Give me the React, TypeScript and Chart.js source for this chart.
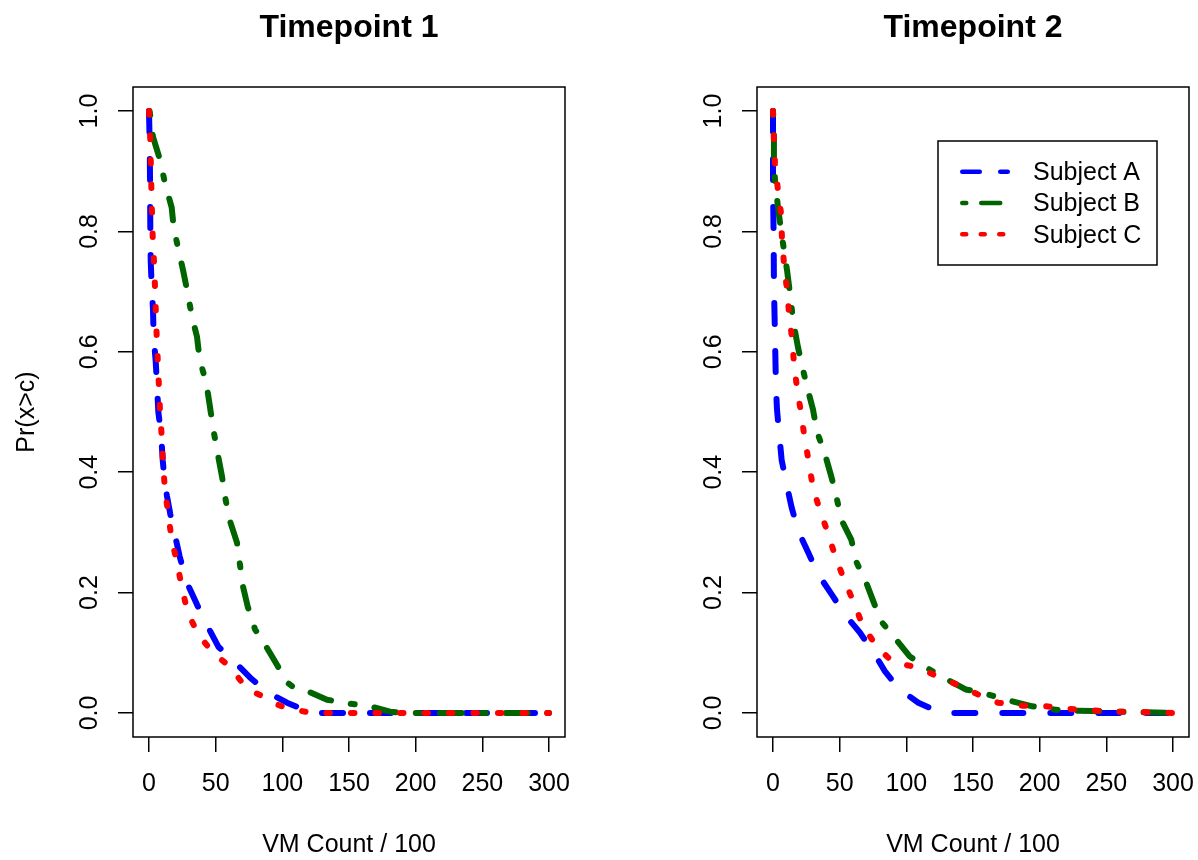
import React, { useEffect, useRef } from "react";
import { Chart, registerables } from "chart.js";

Chart.register(...registerables);

// ---------- data ----------
const xTicks = [0, 50, 100, 150, 200, 250, 300];
const yTicks = [0, 0.2, 0.4, 0.6, 0.8, 1.0];
const panelTitles = ["Timepoint 1", "Timepoint 2"];
const seriesNames = ["Subject A", "Subject B", "Subject C"];
const seriesColors = ["#0000FF", "#006400", "#FF0000"];
const xTitle = "VM Count / 100";
const yTitle = "Pr(x>c)";

// Timepoint 1
const t1A_x = [0, 0.5, 0.8, 1, 1.3, 2, 3, 3.5, 5, 6, 7, 9, 10.3, 11.5, 13.5, 16, 19.5, 23, 28.5, 36, 44, 52, 64.5, 75.7, 89, 103.5, 115.5, 122, 130, 200, 300];
const t1A_y = [1.0, 0.95, 0.88, 0.8, 0.75, 0.71, 0.67, 0.625, 0.585, 0.545, 0.5, 0.465, 0.42, 0.39, 0.36, 0.33, 0.295, 0.26, 0.216, 0.18, 0.144, 0.11, 0.084, 0.059, 0.034, 0.017, 0.006, 0.001, 0, 0, 0];
const t1B_x = [0.5, 3, 8.25, 12, 17, 18.5, 21.75, 25.5, 28.5, 32.25, 36, 38, 43, 45.5, 48, 51, 54.75, 57, 60, 66, 68, 70.5, 74, 79.5, 88.5, 96.75, 104, 110, 119, 133.5, 148.5, 165.75, 180.75, 190, 300];
const t1B_y = [1.0, 0.957, 0.919, 0.88, 0.84, 0.807, 0.773, 0.736, 0.703, 0.658, 0.625, 0.587, 0.548, 0.512, 0.474, 0.437, 0.393, 0.36, 0.324, 0.283, 0.25, 0.21, 0.177, 0.139, 0.108, 0.077, 0.05, 0.04, 0.036, 0.022, 0.016, 0.011, 0.002, 0, 0];
const t1C_x = [0, 1, 1.5, 2, 2.8, 3.75, 4.5, 5.8, 7.5, 8.3, 9.7, 10.5, 12, 14.3, 17, 21, 24.7, 29, 37, 48, 60.7, 72, 80, 87, 95, 102, 110, 120, 130, 200, 300];
const t1C_y = [1.0, 0.95, 0.9, 0.85, 0.79, 0.75, 0.707, 0.624, 0.54, 0.5, 0.454, 0.415, 0.37, 0.333, 0.288, 0.25, 0.208, 0.167, 0.13, 0.1, 0.077, 0.044, 0.033, 0.026, 0.015, 0.009, 0.005, 0.001, 0, 0, 0];

// Timepoint 2
const t2A_x = [0, 0, 0.5, 0.7, 1.5, 2.2, 3, 4.7, 6.5, 10.3, 14, 19, 26.5, 34, 44, 54, 65, 75, 84, 95, 109, 124, 130, 200, 300];
const t2A_y = [1.0, 0.87, 0.79, 0.71, 0.625, 0.542, 0.504, 0.462, 0.42, 0.379, 0.341, 0.302, 0.266, 0.23, 0.197, 0.163, 0.134, 0.102, 0.069, 0.039, 0.017, 0.002, 0, 0, 0];
const t2B_x = [0, 0.7, 0.7, 1.5, 3.7, 6, 10.5, 12.7, 15, 18.7, 22, 25.5, 30, 33, 38.7, 43.7, 47.5, 51.2, 58.7, 62.5, 70, 76.2, 81.2, 91.2, 102.5, 113.7, 127, 144.5, 156.7, 171.2, 194.5, 216.5, 240, 260, 280, 300];
const t2B_y = [1.0, 0.957, 0.924, 0.885, 0.841, 0.802, 0.736, 0.698, 0.653, 0.608, 0.575, 0.542, 0.504, 0.467, 0.432, 0.393, 0.36, 0.321, 0.288, 0.251, 0.216, 0.18, 0.152, 0.125, 0.094, 0.077, 0.06, 0.039, 0.034, 0.024, 0.011, 0.004, 0.003, 0.002, 0.001, 0];
const t2C_x = [0, 0.7, 1.5, 3.7, 6, 6.7, 8.2, 10.5, 12, 14.2, 15.7, 18, 21, 23.7, 27, 30, 35, 41, 47, 54, 60.7, 67.5, 78, 90, 108, 123, 138, 153.5, 168.7, 187, 205, 220, 240, 260, 280, 300];
const t2C_y = [1.0, 0.952, 0.913, 0.869, 0.83, 0.791, 0.747, 0.703, 0.665, 0.623, 0.582, 0.54, 0.499, 0.457, 0.415, 0.374, 0.338, 0.3, 0.258, 0.218, 0.183, 0.144, 0.11, 0.084, 0.076, 0.061, 0.047, 0.031, 0.017, 0.012, 0.011, 0.007, 0.004, 0.002, 0.001, 0];

const panels = [
  { title: panelTitles[0], xs: [t1A_x, t1B_x, t1C_x], ys: [t1A_y, t1B_y, t1C_y] },
  { title: panelTitles[1], xs: [t2A_x, t2B_x, t2C_x], ys: [t2A_y, t2B_y, t2C_y] },
];

// ---------- styles ----------
const FONT = '"Liberation Sans", Arial, Helvetica, sans-serif';
const plotDash = [[21, 27], [4, 20, 22, 20], [3.5, 21]];
const legendDash = [[17.5, 20.5], [4, 15, 19, 15], [4, 14.5]];

const boxPlugin = {
  id: "rbox",
  afterDraw(chart: any) {
    const { ctx, chartArea } = chart;
    ctx.save();
    ctx.strokeStyle = "#000";
    ctx.lineWidth = 1.5;
    ctx.setLineDash([]);
    ctx.strokeRect(chartArea.left, chartArea.top, chartArea.right - chartArea.left, chartArea.bottom - chartArea.top);
    ctx.restore();
  },
};

const legendPlugin = {
  id: "rlegend",
  afterDraw(chart: any) {
    const { ctx, chartArea } = chart;
    const w = 219;
    const h = 124;
    const left = chartArea.right - 32 - w;
    const top = chartArea.top + 54;
    ctx.save();
    ctx.fillStyle = "#fff";
    ctx.fillRect(left, top, w, h);
    ctx.strokeStyle = "#000";
    ctx.lineWidth = 1.5;
    ctx.setLineDash([]);
    ctx.strokeRect(left, top, w, h);
    seriesNames.forEach((name, i) => {
      const y = top + 30.7 + i * 31.3;
      ctx.beginPath();
      ctx.setLineDash(legendDash[i]);
      ctx.lineDashOffset = 0;
      ctx.lineCap = "round";
      ctx.lineWidth = 4.5;
      ctx.strokeStyle = seriesColors[i];
      ctx.moveTo(left + 24.25, y);
      ctx.lineTo(left + 69.75, y);
      ctx.stroke();
      ctx.setLineDash([]);
      ctx.fillStyle = "#000";
      ctx.font = `25px ${FONT}`;
      ctx.textAlign = "left";
      ctx.textBaseline = "middle";
      ctx.fillText(name, left + 95, y + 1.5);
    });
    ctx.restore();
  },
};

function makeConfig(panelIndex: number): any {
  const p = panels[panelIndex];
  const order = [2, 1, 0];
  const datasets = seriesNames.map((name, i) => ({
    label: name,
    data: p.xs[i].map((x, j) => ({ x, y: p.ys[i][j] })),
    borderColor: seriesColors[i],
    backgroundColor: seriesColors[i],
    borderWidth: 6,
    borderDash: plotDash[i],
    borderCapStyle: "round",
    borderJoinStyle: "round",
    pointRadius: 0,
    pointHoverRadius: 0,
    fill: false,
    tension: 0,
    order: order[i],
  }));
  const isFirst = panelIndex === 0;
  const gridOpts = {
    display: true,
    drawOnChartArea: false,
    drawTicks: true,
    tickLength: 15,
    color: "#000",
    lineWidth: 1.5,
  };
  return {
    type: "line",
    data: { datasets },
    options: {
      responsive: false,
      animation: false,
      events: [],
      layout: { padding: { left: 0, right: isFirst ? 34 : 9, top: 0, bottom: 0 } },
      plugins: {
        legend: { display: false },
        tooltip: { enabled: false },
        title: {
          display: true,
          text: p.title,
          color: "#000",
          fullSize: false,
          font: { family: FONT, size: 32, weight: "bold" },
          padding: { top: 9, bottom: 39.6 },
        },
      },
      scales: {
        x: {
          type: "linear",
          min: -12,
          max: 312,
          afterBuildTicks: (s: any) => {
            s.ticks = xTicks.map((v) => ({ value: v }));
          },
          afterFit: (s: any) => {
            s.height = 123;
            s.paddingLeft = 0;
            s.paddingRight = 0;
          },
          grid: gridOpts,
          border: { display: false },
          ticks: {
            color: "#000",
            font: { family: FONT, size: 25 },
            padding: 17,
            minRotation: 0,
            maxRotation: 0,
            autoSkip: false,
            callback: (v: any) => String(v),
          },
          title: {
            display: true,
            text: xTitle,
            color: "#000",
            font: { family: FONT, size: 25 },
            padding: { top: 0, bottom: 0 },
          },
        },
        y: {
          type: "linear",
          min: -0.04,
          max: 1.04,
          afterBuildTicks: (s: any) => {
            s.ticks = yTicks.map((v) => ({ value: v }));
          },
          afterFit: (s: any) => {
            s.width = isFirst ? 133 : 158;
            s.paddingTop = 0;
            s.paddingBottom = 0;
          },
          grid: gridOpts,
          border: { display: false },
          ticks: {
            color: "#000",
            font: { family: FONT, size: 25 },
            padding: 11,
            minRotation: 90,
            maxRotation: 90,
            crossAlign: "center",
            autoSkip: false,
            callback: (v: any) => Number(v).toFixed(1),
          },
          title: {
            display: isFirst,
            text: yTitle,
            color: "#000",
            font: { family: FONT, size: 25 },
            padding: { top: 12, bottom: 0 },
          },
        },
      },
    },
    plugins: isFirst ? [boxPlugin] : [boxPlugin, legendPlugin],
  };
}

function Panel({ index }: { index: number }) {
  const ref = useRef<HTMLCanvasElement | null>(null);
  useEffect(() => {
    if (!ref.current) return;
    const chart = new Chart(ref.current, makeConfig(index));
    return () => chart.destroy();
  }, [index]);
  return <canvas ref={ref} width={599} height={860} style={{ display: "block", width: 599, height: 860 }} />;
}

export default function App() {
  return (
    <div
      style={{
        position: "absolute",
        left: 0,
        top: 0,
        width: 1198,
        height: 860,
        display: "flex",
        background: "#fff",
      }}
    >
      <Panel index={0} />
      <Panel index={1} />
    </div>
  );
}
